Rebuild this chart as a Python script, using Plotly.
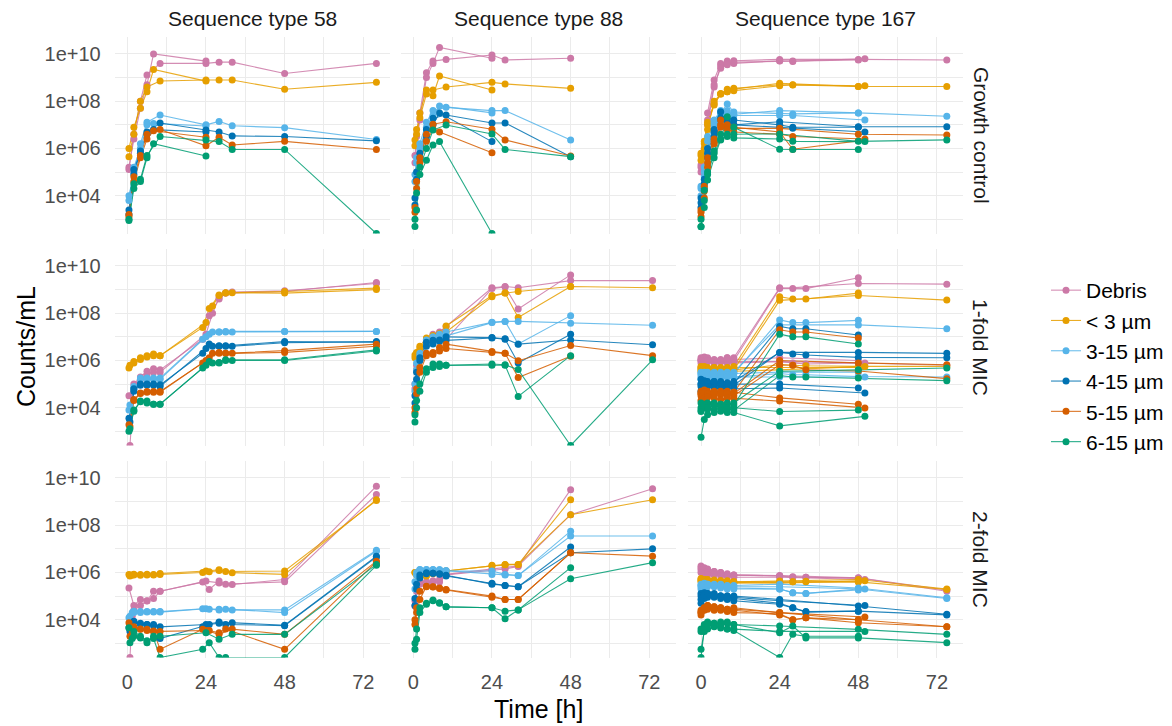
import plotly.graph_objects as go

# ---------------- categories / facets ----------------
categories = ["Debris", "< 3 µm", "3-15 µm", "4-15 µm", "5-15 µm", "6-15 µm"]
colors = ["#CC79A7", "#E69F00", "#56B4E9", "#0072B2", "#D55E00", "#009E73"]
strains = ["Sequence type 58", "Sequence type 88", "Sequence type 167"]
conditions = ["Growth control", "1-fold MIC", "2-fold MIC"]
x_ticks = [0, 24, 48, 72]
y_ticks = [1e4, 1e6, 1e8, 1e10]
y_tick_text = ["1e+04", "1e+06", "1e+08", "1e+10"]

# Each list below: one inner list per replicate culture. Counts/mL; 0 = below detection.
# ---------- ST58, growth control ----------
st58_gc_time = [[0.5, 2, 4, 6, 10, 24, 28, 32, 48, 76], [0.5, 2, 4, 6, 8, 24]]
st58_gc_debris = [[1.3e5, 4.0e6, 1.0e8, 1.3e9, 4.0e9, 4.0e9, 4.5e9, 4.5e9, 1.5e9, 4.0e9], [1.6e5, 2.5e6, 5.0e7, 5.0e8, 1.0e10, 5.0e9]]
st58_gc_lt3 = [[4.5e5, 4.0e6, 1.0e8, 4.0e8, 7.2e8, 7.9e8, 7.9e8, 7.9e8, 3.2e8, 6.3e8], [1.0e6, 7.9e6, 5.0e7, 2.5e8, 2.2e9, 7.1e8]]
st58_gc_3_15 = [[1.0e4, 1.0e5, 1.6e6, 1.3e7, 2.6e7, 1.0e7, 1.4e7, 9.1e6, 7.6e6, 2.4e6], [6.3e3, 1.6e5, 1.0e6, 1.0e7, 1.15e7, 8.9e6]]
st58_gc_4_15 = [[2.5e3, 1.3e5, 6.3e5, 5.0e6, 1.2e7, 6.0e6, 5.0e6, 3.4e6, 3.2e6, 2.1e6], [1.6e3, 7.9e4, 7.9e5, 4.0e6, 6.3e6, 5.0e6]]
st58_gc_5_15 = [[1.6e3, 6.3e4, 5.0e5, 4.0e6, 6.3e6, 1.3e6, 3.0e6, 1.4e6, 2.0e6, 9.1e5], [1.3e3, 4.0e4, 4.0e5, 2.5e6, 5.6e6, 3.0e6]]
st58_gc_6_15 = [[8.9e2, 3.2e4, 5.0e4, 5.0e5, 3.2e6, 2.3e6, 1.95e6, 9.1e5, 9.1e5, 0], [1.0e3, 2.0e4, 4.0e4, 4.0e5, 1.6e6, 4.8e5]]

# ---------- ST88, growth control ----------
st88_gc_time = [[0.5, 1, 2, 4, 6, 10, 24, 28, 48], [0.5, 1, 2, 4, 6, 8, 24]]
st88_gc_debris = [[5.0e5, 3.2e6, 3.2e7, 1.6e9, 5.0e9, 5.9e9, 9.1e9, 5.6e9, 6.6e9], [2.5e5, 1.6e6, 1.6e7, 1.0e9, 4.0e9, 1.9e10, 6.6e9]]
st88_gc_lt3 = [[2.3e6, 6.3e6, 3.2e7, 3.0e8, 3.0e8, 4.0e8, 6.3e8, 5.4e8, 3.5e8], [1.3e6, 4.0e6, 2.0e7, 2.0e8, 1.7e8, 1.17e9, 3.0e8]]
st88_gc_3_15 = [[7.9e4, 4.0e5, 1.6e6, 1.3e7, 4.0e7, 5.5e7, 4.0e7, 4.0e7, 2.3e6], [4.0e4, 2.5e5, 1.0e6, 7.9e6, 2.5e7, 6.3e7, 3.2e7]]
st88_gc_4_15 = [[7.9e3, 1.0e5, 6.3e5, 6.3e6, 1.9e7, 2.6e7, 1.2e7, 1.2e7, 4.5e5], [4.0e3, 5.0e4, 4.0e5, 3.2e6, 1.0e7, 3.2e7, 1.95e6]]
st88_gc_5_15 = [[3.2e3, 4.0e4, 4.0e5, 4.0e6, 1.07e7, 1.35e7, 6.5e6, 2.3e6, 4.8e5], [2.0e3, 2.0e4, 2.5e5, 2.0e6, 6.3e6, 5.0e6, 6.6e5]]
st88_gc_6_15 = [[1.0e3, 1.3e4, 1.6e5, 1.0e6, 6.0e6, 9.8e6, 4.1e6, 9.1e5, 4.5e5], [5.0e2, 2.5e3, 7.9e4, 3.2e5, 1.4e6, 1.95e6, 0]]

# ---------- ST167, growth control ----------
st167_gc_time = [[0, 1, 2, 4, 6, 8, 10, 24, 48, 75], [0, 1, 2, 4, 6, 8, 10, 24, 28, 48], [0, 1, 2, 4, 6, 8, 10, 24, 28, 50]]
st167_gc_debris = [[2.0e5, 1.0e6, 3.2e7, 7.9e8, 4.0e9, 5.0e9, 5.2e9, 5.9e9, 5.9e9, 5.6e9],
                   [1.0e5, 6.3e5, 1.0e7, 4.0e8, 3.2e9, 4.0e9, 4.5e9, 5.0e9, 4.8e9, 5.6e9],
                   [1.6e5, 7.9e5, 1.6e7, 5.0e8, 2.5e9, 3.5e9, 4.0e9, 5.2e9, 5.0e9, 6.3e9]]
st167_gc_lt3 = [[5.0e5, 2.0e6, 1.3e7, 7.9e7, 2.0e8, 2.5e8, 3.2e8, 5.8e8, 4.2e8, 4.2e8],
                [3.2e5, 1.0e6, 6.3e6, 1.0e8, 2.0e8, 3.2e8, 3.5e8, 5.0e8, 4.9e8, 4.2e8],
                [6.3e5, 1.6e6, 1.0e7, 6.9e7, 2.1e8, 2.5e8, 2.8e8, 4.5e8, 5.0e8, 4.5e8]]
st167_gc_3_15 = [[2.0e4, 1.0e5, 3.2e6, 1.6e7, 4.0e7, 3.2e7, 2.8e7, 4.0e7, 3.2e7, 2.3e7],
                 [1.0e4, 6.3e4, 1.0e6, 1.0e7, 3.2e7, 7.6e7, 3.5e7, 3.2e7, 2.9e7, 3.2e7],
                 [2.5e4, 1.6e5, 2.0e6, 1.3e7, 3.2e7, 4.0e7, 2.5e7, 2.5e7, 2.5e7, 1.6e7]]
st167_gc_4_15 = [[5.0e3, 3.2e4, 1.0e6, 6.3e6, 1.6e7, 1.3e7, 1.0e7, 1.35e7, 8.3e6, 8.3e6],
                 [3.2e3, 2.0e4, 4.0e5, 3.2e6, 3.6e7, 2.0e7, 1.6e7, 1.0e7, 7.9e6, 7.9e6],
                 [7.9e3, 5.0e4, 6.3e5, 5.0e6, 2.0e7, 1.6e7, 1.0e7, 7.9e6, 7.1e6, 5.0e6]]
st167_gc_5_15 = [[2.0e3, 1.6e4, 4.0e5, 2.5e6, 1.0e7, 7.9e6, 7.1e6, 7.1e6, 4.0e6, 3.7e6],
                 [1.3e3, 7.9e3, 1.6e5, 1.6e6, 1.6e7, 1.0e7, 7.9e6, 5.0e6, 9.3e5, 2.1e6],
                 [2.5e3, 2.5e4, 2.5e5, 2.0e6, 7.9e6, 6.3e6, 5.0e6, 4.0e6, 3.2e6, 2.5e6]]
st167_gc_6_15 = [[5.0e2, 6.3e3, 1.0e5, 7.9e5, 4.0e6, 4.0e6, 4.0e6, 4.1e6, 2.0e6, 2.3e6],
                 [4.8e2, 3.2e3, 4.6e4, 4.0e5, 2.3e6, 2.2e7, 7.9e6, 9.3e5, 9.1e5, 9.1e5],
                 [1.0e3, 1.7e4, 7.9e4, 6.3e5, 2.5e6, 3.2e6, 2.8e6, 2.5e6, 2.0e6, 1.95e6]]

# ---------- ST58, 1-fold MIC ----------
st58_m1_time = [[0.5, 2, 4, 6, 8, 10, 23, 25, 28, 30, 48, 76], [0.8, 2, 4, 6, 8, 10, 24, 26, 28, 30, 32, 48, 76]]
st58_m1_debris = [[3.2e4, 1.0e5, 2.0e5, 3.5e5, 4.5e5, 4.0e5, 7.9e6, 7.9e7, 4.0e8, 7.1e8, 8.3e8, 2.0e9],
                  [0, 6.3e4, 1.6e5, 2.5e5, 3.2e5, 3.2e5, 1.3e7, 1.0e8, 4.5e8, 7.1e8, 7.9e8, 8.9e8, 1.8e9]]
st58_m1_lt3 = [[4.8e5, 9.1e5, 1.3e6, 1.6e6, 1.9e6, 1.6e6, 2.5e7, 1.6e8, 5.9e8, 7.4e8, 8.3e8, 1.15e9],
               [6.3e5, 7.9e5, 1.1e6, 1.4e6, 1.6e6, 1.6e6, 4.0e7, 2.0e8, 5.6e8, 7.1e8, 7.4e8, 7.1e8, 1.0e9]]
st58_m1_3_15 = [[7.9e3, 7.9e4, 1.8e5, 1.8e5, 1.8e5, 1.8e5, 7.9e6, 1.3e7, 1.6e7, 1.7e7, 1.7e7, 1.7e7],
                [1.3e4, 6.3e4, 1.6e5, 1.6e5, 1.6e5, 1.6e5, 1.0e7, 1.6e7, 1.6e7, 1.6e7, 1.6e7, 1.7e7, 1.7e7]]
st58_m1_4_15 = [[3.6e3, 5.0e4, 1.0e5, 1.0e5, 1.0e5, 9.3e4, 2.0e6, 5.0e6, 4.0e6, 4.2e6, 6.3e6, 5.9e6],
                [2.5e3, 6.3e4, 8.9e4, 8.9e4, 8.9e4, 7.9e4, 3.2e6, 4.0e6, 4.2e6, 4.0e6, 4.0e6, 5.6e6, 6.3e6]]
st58_m1_5_15 = [[1.9e3, 2.2e4, 4.2e4, 4.9e4, 4.9e4, 4.9e4, 7.9e5, 1.3e6, 2.2e6, 2.0e6, 2.6e6, 4.9e6],
                [1.6e3, 2.0e4, 4.0e4, 4.5e4, 4.5e4, 4.5e4, 1.0e6, 2.0e6, 2.0e6, 2.0e6, 2.0e6, 2.2e6, 4.0e6]]
st58_m1_6_15 = [[1.0e3, 7.1e3, 1.9e4, 1.9e4, 1.4e4, 1.4e4, 4.8e5, 9.1e5, 7.8e5, 1.07e6, 1.07e6, 2.8e6],
                [1.3e3, 7.9e3, 1.8e4, 1.6e4, 1.4e4, 1.4e4, 6.3e5, 7.9e5, 8.3e5, 1.0e6, 1.0e6, 1.0e6, 2.5e6]]

# ---------- ST88, 1-fold MIC ----------
st88_m1_time = [[0.5, 1, 2, 4, 6, 8, 10, 24, 28, 32, 48, 73], [0.5, 1, 2, 4, 6, 8, 10, 24, 28, 32, 48]]
st88_m1_debris = [[6.3e4, 4.0e5, 2.0e6, 7.9e6, 1.3e7, 1.6e7, 2.75e7, 1.2e9, 1.35e9, 1.2e9, 2.4e9, 2.4e9],
                  [1.0e5, 6.3e5, 2.5e6, 6.3e6, 1.0e7, 1.3e7, 7.9e6, 1.1e9, 1.3e9, 1.5e8, 4.2e9]]
st88_m1_lt3 = [[1.7e6, 2.2e6, 4.0e6, 8.9e6, 1.15e7, 1.4e7, 2.9e7, 5.6e8, 7.1e8, 8.3e8, 1.35e9, 1.2e9],
               [1.3e6, 2.0e6, 3.2e6, 6.3e6, 1.0e7, 1.3e7, 1.6e7, 5.0e8, 7.1e8, 6.6e7, 1.35e9]]
st88_m1_3_15 = [[1.0e5, 7.9e5, 2.0e6, 7.4e6, 1.0e7, 1.3e7, 1.6e7, 4.1e7, 4.5e7, 4.5e7, 3.8e7, 3.1e7],
                [5.0e4, 4.0e5, 1.6e6, 5.0e6, 7.9e6, 1.0e7, 1.1e7, 4.0e7, 4.5e7, 5.0e6, 7.9e7]]
st88_m1_4_15 = [[3.2e4, 3.2e5, 1.3e6, 5.9e6, 7.1e6, 7.4e6, 1.0e7, 9.3e6, 8.3e6, 4.9e6, 7.4e6, 4.6e6],
                [1.6e4, 1.6e5, 1.0e6, 4.0e6, 5.0e6, 6.3e6, 7.1e6, 8.9e6, 7.9e6, 7.8e5, 1.3e7]]
st88_m1_5_15 = [[1.0e4, 6.3e4, 5.0e5, 2.0e6, 2.2e6, 3.5e6, 4.9e6, 2.4e6, 2.0e6, 9.8e5, 4.3e6, 1.6e6],
                [6.3e3, 4.0e4, 3.2e5, 1.6e6, 1.8e6, 2.5e6, 3.2e6, 2.2e6, 2.0e6, 1.9e5, 1.5e6]]
st88_m1_6_15 = [[5.0e3, 2.0e4, 1.0e5, 4.5e5, 7.1e5, 7.1e5, 6.2e5, 7.1e5, 6.6e5, 4.1e5, 0, 1.07e6],
                [2.5e3, 1.0e4, 5.0e4, 3.2e5, 5.0e5, 5.6e5, 6.3e5, 6.3e5, 6.3e5, 3.0e4, 1.6e6]]

# ---------- ST167, 1-fold MIC ----------
st167_m1_time = [[0, 1, 2, 4, 6, 8, 10, 24, 28, 32, 48], [0, 1, 2, 4, 6, 8, 10, 24, 48, 75],
                 [0, 1, 2, 4, 6, 8, 10, 24, 28, 32, 48, 75], [0, 1, 2, 4, 6, 8, 10, 24, 48],
                 [0, 1, 2, 4, 6, 8, 10, 24, 50]]
st167_m1_debris = [[1.3e6, 1.4e6, 1.1e6, 1.0e6, 8.9e5, 1.1e6, 1.3e6, 1.2e9, 1.1e9, 1.1e9, 3.2e9],
                   [1.0e6, 1.1e6, 1.3e6, 1.0e6, 1.1e6, 1.3e6, 1.0e6, 1.1e9, 1.8e9, 1.7e9],
                   [7.9e5, 1.0e6, 8.9e5, 7.9e5, 1.0e6, 7.9e5, 8.9e5, 9.1e5, 7.9e5, 7.1e5, 7.8e5, 6.3e5],
                   [1.1e6, 1.3e6, 1.0e6, 1.1e6, 1.0e6, 1.3e6, 1.1e6, 1.3e6, 1.0e6],
                   [1.0e6, 8.9e5, 1.0e6, 7.9e5, 8.9e5, 1.0e6, 7.9e5, 8.9e5, 7.9e5]]
st167_m1_lt3 = [[5.0e5, 5.6e5, 5.0e5, 4.5e5, 5.0e5, 4.0e5, 5.6e5, 5.0e8, 4.0e8, 4.0e8, 7.1e8],
                [5.6e5, 5.0e5, 4.5e5, 5.0e5, 4.5e5, 5.0e5, 4.0e5, 3.5e8, 5.6e8, 3.6e8],
                [4.0e5, 4.5e5, 4.0e5, 3.5e5, 4.0e5, 3.5e5, 4.0e5, 6.6e5, 6.3e5, 6.0e5, 5.6e5, 5.6e5],
                [4.5e5, 5.0e5, 4.0e5, 5.0e5, 4.0e5, 4.5e5, 5.0e5, 5.0e5, 5.0e5],
                [3.5e5, 4.0e5, 4.0e5, 4.0e5, 3.5e5, 4.0e5, 3.5e5, 4.0e5, 5.6e5]]
st167_m1_3_15 = [[2.8e5, 3.2e5, 2.8e5, 3.2e5, 2.5e5, 3.2e5, 2.8e5, 5.2e7, 4.0e7, 4.0e7, 5.0e7],
                 [3.2e5, 2.8e5, 3.2e5, 2.5e5, 2.8e5, 2.5e5, 3.2e5, 3.2e7, 3.2e7, 2.2e7],
                 [2.0e5, 2.2e5, 2.0e5, 2.0e5, 2.2e5, 2.0e5, 2.0e5, 2.8e5, 2.5e5, 2.5e5, 2.1e5, 2.0e5],
                 [2.5e5, 2.8e5, 2.5e5, 2.8e5, 3.2e5, 2.5e5, 2.8e5, 3.2e5, 3.2e5],
                 [1.6e5, 2.0e5, 2.2e5, 2.0e5, 1.8e5, 2.0e5, 2.0e5, 2.0e5, 2.0e5]]
st167_m1_4_15 = [[1.0e5, 1.4e5, 1.3e5, 1.1e5, 1.3e5, 1.0e5, 1.1e5, 2.75e7, 2.2e7, 2.2e7, 1.2e7],
                 [1.6e5, 1.3e5, 1.1e5, 1.3e5, 1.0e5, 1.1e5, 1.3e5, 2.2e6, 2.2e6, 2.0e6],
                 [7.9e4, 1.0e5, 8.9e4, 7.9e4, 8.9e4, 7.9e4, 8.9e4, 2.2e6, 1.9e6, 1.7e6, 1.35e6, 1.3e6],
                 [1.0e5, 1.1e5, 1.0e5, 1.3e5, 1.0e5, 1.1e5, 1.0e5, 1.0e5, 6.8e4],
                 [5.0e4, 7.1e4, 7.9e4, 7.1e4, 6.3e4, 7.1e4, 6.3e4, 6.8e4, 4.2e4]]
st167_m1_5_15 = [[4.0e4, 5.6e4, 5.0e4, 4.5e4, 5.0e4, 4.0e4, 4.5e4, 2.0e7, 1.6e7, 1.6e7, 8.9e6],
                 [5.0e4, 4.5e4, 4.0e4, 5.0e4, 4.5e4, 5.0e4, 4.0e4, 1.0e6, 7.9e5, 6.6e5],
                 [3.2e4, 3.5e4, 3.2e4, 3.2e4, 3.5e4, 3.2e4, 3.2e4, 6.6e5, 6.3e5, 4.0e5, 3.6e5, 1.7e5],
                 [4.0e4, 4.5e4, 4.0e4, 4.5e4, 4.0e4, 4.0e4, 4.5e4, 2.6e4, 1.4e4],
                 [2.0e4, 2.5e4, 2.8e4, 2.5e4, 2.2e4, 2.5e4, 2.5e4, 1.9e4, 9.8e3]]
st167_m1_6_15 = [[1.0e4, 1.4e4, 1.6e4, 1.3e4, 1.4e4, 1.6e4, 1.3e4, 1.3e7, 1.0e7, 1.0e7, 5.0e6],
                 [1.6e4, 1.3e4, 1.4e4, 1.6e4, 1.4e4, 1.3e4, 1.6e4, 3.5e5, 4.0e5, 4.8e5],
                 [7.9e3, 1.0e4, 8.9e3, 7.9e3, 1.0e4, 8.9e3, 7.9e3, 2.3e5, 2.0e5, 2.0e5, 1.8e5, 1.4e5],
                 [6.9e3, 1.3e4, 1.0e4, 1.3e4, 1.0e4, 1.0e4, 1.0e4, 6.9e3, 7.9e3],
                 [5.6e2, 3.2e3, 5.0e3, 6.3e3, 7.1e3, 6.3e3, 6.3e3, 1.7e3, 4.3e3]]

# ---------- ST58, 2-fold MIC ----------
st58_m2_time = [[0.5, 2, 4, 6, 8, 10, 24, 28, 32, 48, 76], [0.8, 1.5, 2, 4, 6, 8, 10, 23, 25, 28, 30, 48, 76]]
st58_m2_debris = [[2.2e5, 4.0e4, 7.2e4, 6.2e4, 1.6e5, 1.6e5, 4.3e5, 3.6e5, 3.1e5, 5.0e5, 4.5e9],
                  [0, 1.4e4, 2.5e4, 4.0e4, 6.3e4, 7.9e4, 1.6e5, 3.9e5, 1.9e5, 4.3e5, 3.2e5, 4.0e5, 2.0e9]]
st58_m2_lt3 = [[8.3e5, 8.5e5, 8.3e5, 8.5e5, 8.3e5, 9.1e5, 1.15e6, 1.3e6, 9.8e5, 8.3e5, 1.2e9],
               [7.1e5, 7.9e5, 7.9e5, 7.6e5, 7.9e5, 7.9e5, 8.3e5, 1.0e6, 1.07e6, 1.2e6, 1.1e6, 1.15e6, 1.1e9]]
st58_m2_3_15 = [[1.2e4, 2.3e4, 2.2e4, 2.2e4, 2.2e4, 2.1e4, 2.9e4, 2.8e4, 2.6e4, 2.6e4, 8.7e6],
                [1.4e4, 2.0e4, 2.0e4, 2.0e4, 2.1e4, 2.1e4, 2.2e4, 2.9e4, 2.8e4, 2.6e4, 2.8e4, 2.0e4, 7.9e6]]
st58_m2_4_15 = [[4.6e3, 8.7e3, 6.3e3, 6.3e3, 6.3e3, 5.0e3, 6.3e3, 7.9e3, 7.4e3, 5.8e3, 4.9e6],
                [3.2e3, 5.0e3, 7.9e3, 7.1e3, 6.3e3, 5.6e3, 1.6e3, 5.0e3, 6.3e3, 7.1e3, 6.3e3, 5.6e3, 4.5e6]]
st58_m2_5_15 = [[7.4e3, 4.0e3, 3.9e3, 3.9e3, 3.3e3, 3.2e3, 3.5e3, 2.4e3, 4.0e3, 2.4e3, 3.0e6],
                [2.0e3, 3.2e3, 5.0e3, 4.0e3, 3.5e3, 3.2e3, 5.6e2, 3.9e3, 3.5e3, 2.8e3, 4.0e3, 5.6e2, 2.8e6]]
st58_m2_6_15 = [[4.6e3, 2.0e3, 1.7e3, 1.07e3, 2.0e3, 2.0e3, 2.8e3, 1.5e3, 2.4e3, 2.4e3, 2.2e6],
                [1.07e3, 1.6e3, 3.2e3, 2.0e3, 1.3e3, 1.6e3, 0, 5.6e2, 1.07e3, 0, 0, 0, 2.0e6]]

# ---------- ST88, 2-fold MIC ----------
st88_m2_time = [[0.5, 1, 2, 4, 6, 8, 10, 24, 28, 32, 48, 73], [0.5, 1, 2, 4, 6, 8, 10, 24, 28, 32, 48]]
st88_m2_debris = [[3.8e4, 1.6e5, 4.0e5, 3.5e5, 4.0e5, 3.9e5, 8.3e5, 1.35e6, 1.6e6, 1.9e6, 2.8e8, 3.5e9],
                  [6.3e4, 2.0e5, 3.2e5, 4.0e5, 4.5e5, 5.0e5, 7.9e5, 1.3e6, 1.4e6, 1.8e6, 3.2e9]]
st88_m2_lt3 = [[1.0e6, 7.9e5, 6.3e5, 7.1e5, 8.9e5, 1.15e6, 1.15e6, 2.0e6, 2.2e6, 2.2e6, 2.8e8, 1.2e9],
               [1.0e6, 8.9e5, 7.1e5, 7.9e5, 1.0e6, 1.1e6, 1.15e6, 1.9e6, 2.1e6, 2.2e6, 1.2e9]]
st88_m2_3_15 = [[2.0e5, 7.9e5, 1.35e6, 1.3e6, 1.35e6, 1.3e6, 1.15e6, 1.15e6, 8.3e5, 7.4e5, 3.5e7, 3.5e7],
                [4.0e5, 1.0e6, 1.3e6, 1.35e6, 1.3e6, 1.3e6, 1.2e6, 8.3e5, 7.9e5, 7.4e5, 5.6e7]]
st88_m2_4_15 = [[4.0e4, 2.0e5, 5.9e5, 9.8e5, 9.3e5, 8.9e5, 7.1e5, 3.5e5, 2.8e5, 2.5e5, 6.8e6, 1.0e7],
                [7.9e4, 3.2e5, 7.9e5, 8.9e5, 9.3e5, 8.5e5, 7.6e5, 3.2e5, 2.8e5, 2.5e5, 1.2e7]]
st88_m2_5_15 = [[6.3e3, 2.0e4, 7.2e4, 2.6e5, 2.5e5, 2.2e5, 1.9e5, 1.0e5, 7.2e4, 7.2e4, 6.8e6, 4.9e6],
                [1.0e4, 3.2e4, 1.6e5, 2.5e5, 2.4e5, 2.1e5, 1.8e5, 8.9e4, 7.2e4, 7.2e4, 6.8e6]]
st88_m2_6_15 = [[5.6e2, 1.5e3, 2.0e4, 4.5e4, 6.8e4, 5.2e4, 3.5e4, 3.2e4, 1.1e4, 2.6e4, 5.4e5, 2.6e6],
                [1.0e3, 4.0e3, 3.2e4, 5.0e4, 6.3e4, 5.0e4, 3.5e4, 3.2e4, 2.3e4, 2.6e4, 1.6e6]]

# ---------- ST167, 2-fold MIC ----------
st167_m2_time = [[0, 1, 2, 4, 6, 8, 10, 24, 48, 75], [0, 1, 2, 4, 6, 8, 10, 24, 28, 32, 48, 75],
                 [0, 1, 2, 4, 6, 8, 10, 24, 28, 32, 48], [0, 1, 2, 4, 6, 8, 10, 24, 50]]
st167_m2_debris = [[1.9e6, 1.6e6, 1.4e6, 1.1e6, 1.0e6, 8.9e5, 7.9e5, 7.4e5, 5.9e5, 1.6e5],
                   [1.6e6, 1.4e6, 1.3e6, 1.1e6, 1.0e6, 7.9e5, 7.9e5, 7.1e5, 6.6e5, 6.3e5, 6.0e5, 1.8e5],
                   [1.3e6, 1.1e6, 1.0e6, 8.9e5, 8.9e5, 7.9e5, 7.6e5, 7.1e5, 6.3e5, 6.3e5, 5.6e5],
                   [1.0e6, 8.9e5, 7.9e5, 7.9e5, 7.1e5, 7.1e5, 6.3e5, 6.3e5, 5.0e5]]
st167_m2_lt3 = [[5.6e5, 5.0e5, 4.8e5, 4.5e5, 4.5e5, 4.2e5, 4.0e5, 4.3e5, 5.0e5, 2.0e5],
                [4.5e5, 5.0e5, 5.0e5, 4.8e5, 4.5e5, 4.5e5, 4.0e5, 4.0e5, 4.0e5, 4.2e5, 4.0e5, 1.9e5],
                [4.0e5, 4.2e5, 4.0e5, 4.0e5, 3.8e5, 3.8e5, 3.5e5, 3.8e5, 4.0e5, 4.0e5, 4.0e5],
                [5.0e5, 4.8e5, 4.5e5, 4.2e5, 4.0e5, 4.0e5, 3.8e5, 3.5e5, 4.5e5]]
st167_m2_3_15 = [[3.2e5, 3.5e5, 3.2e5, 3.2e5, 3.2e5, 2.8e5, 2.8e5, 3.2e5, 2.2e5, 8.5e4],
                 [2.5e5, 2.8e5, 2.8e5, 2.8e5, 2.5e5, 2.5e5, 2.2e5, 2.0e5, 1.4e5, 1.3e5, 2.0e5, 7.9e4],
                 [2.0e5, 2.2e5, 2.5e5, 2.5e5, 2.2e5, 2.0e5, 2.0e5, 2.0e5, 1.4e5, 1.3e5, 1.8e5],
                 [2.8e5, 3.2e5, 3.2e5, 2.8e5, 2.8e5, 2.5e5, 2.5e5, 2.5e5, 2.0e5]]
st167_m2_4_15 = [[1.3e5, 1.4e5, 1.3e5, 1.1e5, 1.0e5, 1.0e5, 1.0e5, 7.2e4, 3.8e4, 1.7e4],
                 [1.0e5, 1.3e5, 1.1e5, 1.3e5, 1.0e5, 8.9e4, 7.9e4, 5.0e4, 3.2e4, 2.1e4, 2.3e4, 1.6e4],
                 [5.0e4, 7.9e4, 8.9e4, 8.9e4, 7.9e4, 7.1e4, 6.3e4, 4.5e4, 3.2e4, 2.2e4, 2.3e4],
                 [7.1e4, 1.1e5, 1.3e5, 1.1e5, 1.0e5, 1.0e5, 8.9e4, 6.3e4, 4.0e4]]
st167_m2_5_15 = [[2.5e4, 3.2e4, 4.0e4, 3.5e4, 3.2e4, 2.8e4, 3.2e4, 2.0e4, 1.0e4, 5.0e3],
                 [2.0e4, 2.8e4, 3.2e4, 3.2e4, 2.8e4, 2.5e4, 2.5e4, 1.6e4, 1.0e4, 1.2e4, 7.4e3, 5.0e3],
                 [1.6e4, 2.5e4, 2.8e4, 2.5e4, 2.5e4, 2.2e4, 2.0e4, 1.8e4, 1.0e4, 1.2e4, 1.0e4],
                 [2.0e4, 3.2e4, 4.0e4, 3.5e4, 3.2e4, 2.8e4, 2.8e4, 2.0e4, 1.3e4]]
st167_m2_6_15 = [[4.0e3, 6.3e3, 7.9e3, 7.1e3, 6.3e3, 7.9e3, 6.3e3, 5.4e3, 3.9e3, 2.4e3],
                 [3.2e3, 5.0e3, 6.3e3, 7.1e3, 7.9e3, 7.1e3, 6.3e3, 2.8e3, 5.4e3, 1.7e3, 1.7e3, 1.07e3],
                 [5.6e2, 3.2e3, 4.0e3, 5.0e3, 4.5e3, 4.0e3, 3.5e3, 0, 2.4e3, 2.0e3, 2.0e3],
                 [0, 4.0e3, 6.3e3, 5.6e3, 5.0e3, 4.0e3, 4.0e3, 3.2e3, 3.2e3]]

# panel lookup: (row, col) -> (times, [series per category])
panels = {
    (0, 0): (st58_gc_time, [st58_gc_debris, st58_gc_lt3, st58_gc_3_15, st58_gc_4_15, st58_gc_5_15, st58_gc_6_15]),
    (0, 1): (st88_gc_time, [st88_gc_debris, st88_gc_lt3, st88_gc_3_15, st88_gc_4_15, st88_gc_5_15, st88_gc_6_15]),
    (0, 2): (st167_gc_time, [st167_gc_debris, st167_gc_lt3, st167_gc_3_15, st167_gc_4_15, st167_gc_5_15, st167_gc_6_15]),
    (1, 0): (st58_m1_time, [st58_m1_debris, st58_m1_lt3, st58_m1_3_15, st58_m1_4_15, st58_m1_5_15, st58_m1_6_15]),
    (1, 1): (st88_m1_time, [st88_m1_debris, st88_m1_lt3, st88_m1_3_15, st88_m1_4_15, st88_m1_5_15, st88_m1_6_15]),
    (1, 2): (st167_m1_time, [st167_m1_debris, st167_m1_lt3, st167_m1_3_15, st167_m1_4_15, st167_m1_5_15, st167_m1_6_15]),
    (2, 0): (st58_m2_time, [st58_m2_debris, st58_m2_lt3, st58_m2_3_15, st58_m2_4_15, st58_m2_5_15, st58_m2_6_15]),
    (2, 1): (st88_m2_time, [st88_m2_debris, st88_m2_lt3, st88_m2_3_15, st88_m2_4_15, st88_m2_5_15, st88_m2_6_15]),
    (2, 2): (st167_m2_time, [st167_m2_debris, st167_m2_lt3, st167_m2_3_15, st167_m2_4_15, st167_m2_5_15, st167_m2_6_15]),
}

# ---------------- layout geometry ----------------
W, H = 1172, 726
LOG_MIN, LOG_MAX = 2.40, 10.74          # log10 y range shared by all panels
X_RANGE = [-3.85, 80.0]
FLOOR = 10 ** LOG_MIN                  # zero counts drawn on the panel floor (like -Inf in ggplot)
col_px = [(114.7, 389.5), (400.7, 675.5), (688.4, 963.2)]
row_px = [(36.5, 233.5), (248.5, 445.5), (460.5, 657.5)]
GRID = "#EBEBEB"
FONT = "Liberation Sans, Arial, sans-serif"


def rgba(hex_color, a):
    h = hex_color.lstrip("#")
    return "rgba(%d,%d,%d,%s)" % (int(h[0:2], 16), int(h[2:4], 16), int(h[4:6], 16), a)


fig = go.Figure()
line_traces, point_traces = [], []
for (r, c), (times, series) in panels.items():
    k = r * 3 + c + 1
    xa = "x" if k == 1 else "x%d" % k
    ya = "y" if k == 1 else "y%d" % k
    for ci, cat_reps in enumerate(series):
        xs, ys = [], []
        for t_rep, v_rep in zip(times, cat_reps):
            xs += list(t_rep) + [None]
            ys += [v if v > 0 else FLOOR for v in v_rep] + [None]
        line_traces.append(go.Scatter(x=xs, y=ys, xaxis=xa, yaxis=ya, mode="lines",
                                      line=dict(color=rgba(colors[ci], 0.85), width=1.1),
                                      showlegend=False, hoverinfo="skip", connectgaps=False))
        point_traces.append(go.Scatter(x=xs, y=ys, xaxis=xa, yaxis=ya, mode="markers",
                                       marker=dict(color=colors[ci], size=7, line=dict(width=0)),
                                       showlegend=False, name=categories[ci]))
for tr in line_traces + point_traces:
    fig.add_trace(tr)

# legend keys (no data)
for ci, cat in enumerate(categories):
    fig.add_trace(go.Scatter(x=[None], y=[None], mode="lines+markers", name=cat,
                             line=dict(color=rgba(colors[ci], 0.85), width=1.1),
                             marker=dict(color=colors[ci], size=7), showlegend=True))

layout = dict(
    width=W, height=H, paper_bgcolor="white", plot_bgcolor="white",
    margin=dict(l=0, r=0, t=0, b=0), showlegend=True,
    font=dict(family=FONT, color="#1A1A1A"),
    legend=dict(x=1046 / W, y=1 - 270 / H, xanchor="left", yanchor="top",
                font=dict(size=21, color="black", family=FONT), bgcolor="rgba(0,0,0,0)",
                itemwidth=30, tracegroupgap=0),
)
for r in range(3):
    for c in range(3):
        k = r * 3 + c + 1
        xk = "xaxis" if k == 1 else "xaxis%d" % k
        yk = "yaxis" if k == 1 else "yaxis%d" % k
        x0, x1 = col_px[c]
        y0, y1 = row_px[r]
        layout[xk] = dict(domain=[x0 / W, x1 / W], anchor="y" if k == 1 else "y%d" % k,
                          range=X_RANGE, tickvals=x_ticks, ticktext=[str(v) for v in x_ticks],
                          showticklabels=(r == 2), tickfont=dict(size=20, color="#4D4D4D", family=FONT),
                          showgrid=True, gridcolor=GRID, gridwidth=1.1, zeroline=False, showline=False,
                          ticks="", ticklabelstandoff=10,
                          minor=dict(tickvals=[12, 36, 60], showgrid=True, gridcolor=GRID, gridwidth=0.6))
        layout[yk] = dict(domain=[1 - y1 / H, 1 - y0 / H], anchor="x" if k == 1 else "x%d" % k,
                          type="log", range=[LOG_MIN, LOG_MAX], tickvals=y_ticks, ticktext=y_tick_text,
                          showticklabels=(c == 0), tickfont=dict(size=20, color="#4D4D4D", family=FONT),
                          showgrid=True, gridcolor=GRID, gridwidth=1.1, zeroline=False, showline=False,
                          ticks="", ticklabelstandoff=13,
                          minor=dict(tickvals=[1e3, 1e5, 1e7, 1e9], showgrid=True, gridcolor=GRID, gridwidth=0.6))

annotations = []
for c, name in enumerate(strains):
    x0, x1 = col_px[c]
    annotations.append(dict(text=name, x=(x0 + x1) / 2 / W, y=1 - 19 / H, xref="paper", yref="paper",
                            showarrow=False, xanchor="center", yanchor="middle",
                            font=dict(size=21, color="#1A1A1A", family=FONT)))
for r, name in enumerate(conditions):
    y0, y1 = row_px[r]
    annotations.append(dict(text=name, x=981 / W, y=1 - (y0 + y1) / 2 / H, xref="paper", yref="paper",
                            showarrow=False, xanchor="center", yanchor="middle", textangle=90,
                            font=dict(size=21, color="#1A1A1A", family=FONT)))
annotations.append(dict(text="Time [h]", x=(col_px[0][0] + col_px[2][1]) / 2 / W, y=1 - 709 / H,
                        xref="paper", yref="paper", showarrow=False, xanchor="center", yanchor="middle",
                        font=dict(size=25, color="black", family=FONT)))
annotations.append(dict(text="Counts/mL", x=26 / W, y=1 - 347 / H, xref="paper", yref="paper",
                        showarrow=False, xanchor="center", yanchor="middle", textangle=-90,
                        font=dict(size=25, color="black", family=FONT)))
layout["annotations"] = annotations
fig.update_layout(**layout)
# remove the browser's default 8px body margin so the figure sits at the page origin
fig.write_html("out.html", config={"displayModeBar": False},
               post_script="document.body.style.margin='0px';document.body.style.overflow='hidden';")
